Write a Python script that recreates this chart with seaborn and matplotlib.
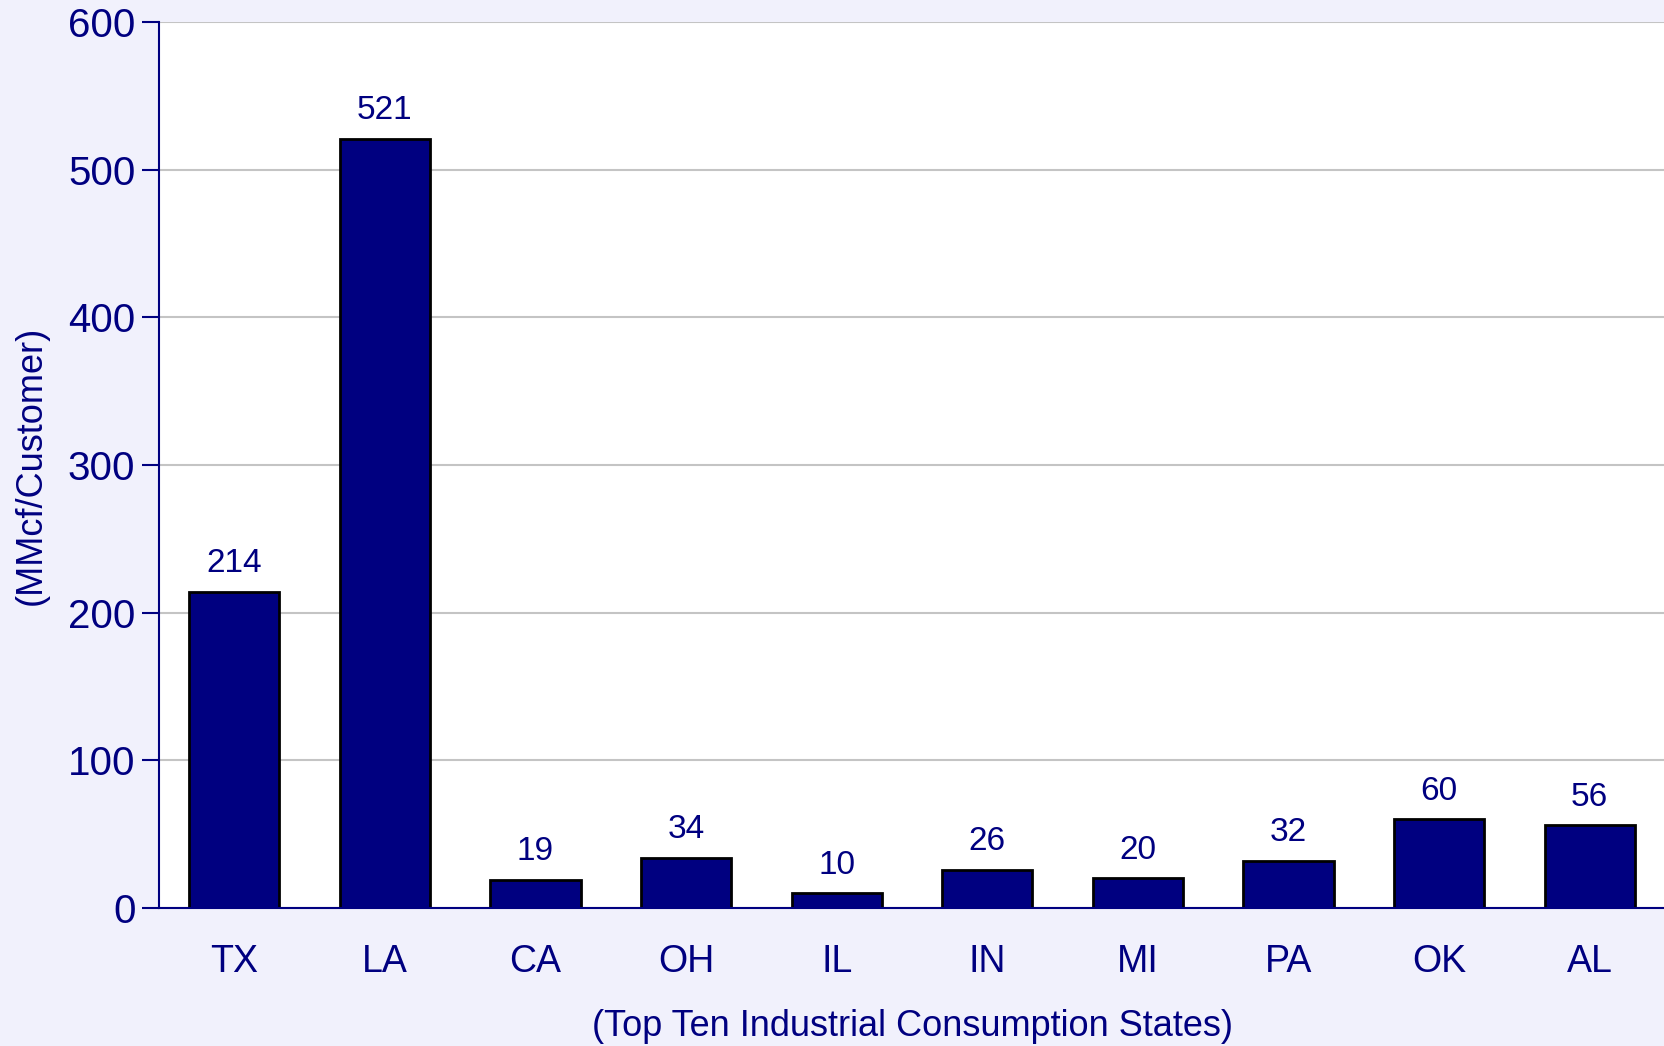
import matplotlib
matplotlib.use("Agg")
import matplotlib.pyplot as plt
import seaborn as sns
import numpy as np

# data
states = ["TX", "LA", "CA", "OH", "IL", "IN", "MI", "PA", "OK", "AL"]
values = [214, 521, 19, 34, 10, 26, 20, 32, 60, 56]
y_ticks = [0, 100, 200, 300, 400, 500, 600]

navy = "#000080"
bg = "#F1F1FC"

sns.set_theme(style="white")
plt.rcParams['font.family'] = ['Liberation Sans', 'DejaVu Sans']

fig = plt.figure(figsize=(16.65, 10.46), dpi=100, facecolor=bg)
ax = fig.add_axes([0.0955, 0.132, 0.9045, 0.847])
ax.set_facecolor("white")

sns.barplot(x=states, y=values, color=navy, edgecolor="black", linewidth=2,
            width=0.6, saturation=1, ax=ax)

ax.set_ylim(0, 600)
ax.set_xlim(-0.5, len(states) - 0.5)
ax.set_yticks(y_ticks)
ax.yaxis.grid(True, color="#C4C4C4", linewidth=1.5)
ax.set_axisbelow(True)

# tick marks between categories, labels centred
ax.set_xticks(np.arange(-0.5, len(states)), minor=True)
ax.tick_params(axis="x", which="major", length=0, pad=26, labelsize=27, labelcolor=navy)
ax.tick_params(axis="x", which="minor", length=11, width=1.5, color=navy, direction="out")
ax.tick_params(axis="y", length=12, width=1.5, color=navy, direction="out", pad=5,
               labelsize=29, labelcolor=navy, left=True)

for s in ["top", "right"]:
    ax.spines[s].set_visible(False)
for s in ["left", "bottom"]:
    ax.spines[s].set_color(navy)
    ax.spines[s].set_linewidth(1.5)

for c in ax.containers:
    ax.bar_label(c, labels=[str(v) for v in values], padding=9, fontsize=24, color=navy)

ax.set_xlabel("(Top Ten Industrial Consumption States)", fontsize=26, color=navy, labelpad=21)
ax.set_ylabel("(MMcf/Customer)", fontsize=26, color=navy, labelpad=14)

fig.savefig("out.png", dpi=100, facecolor=bg)
